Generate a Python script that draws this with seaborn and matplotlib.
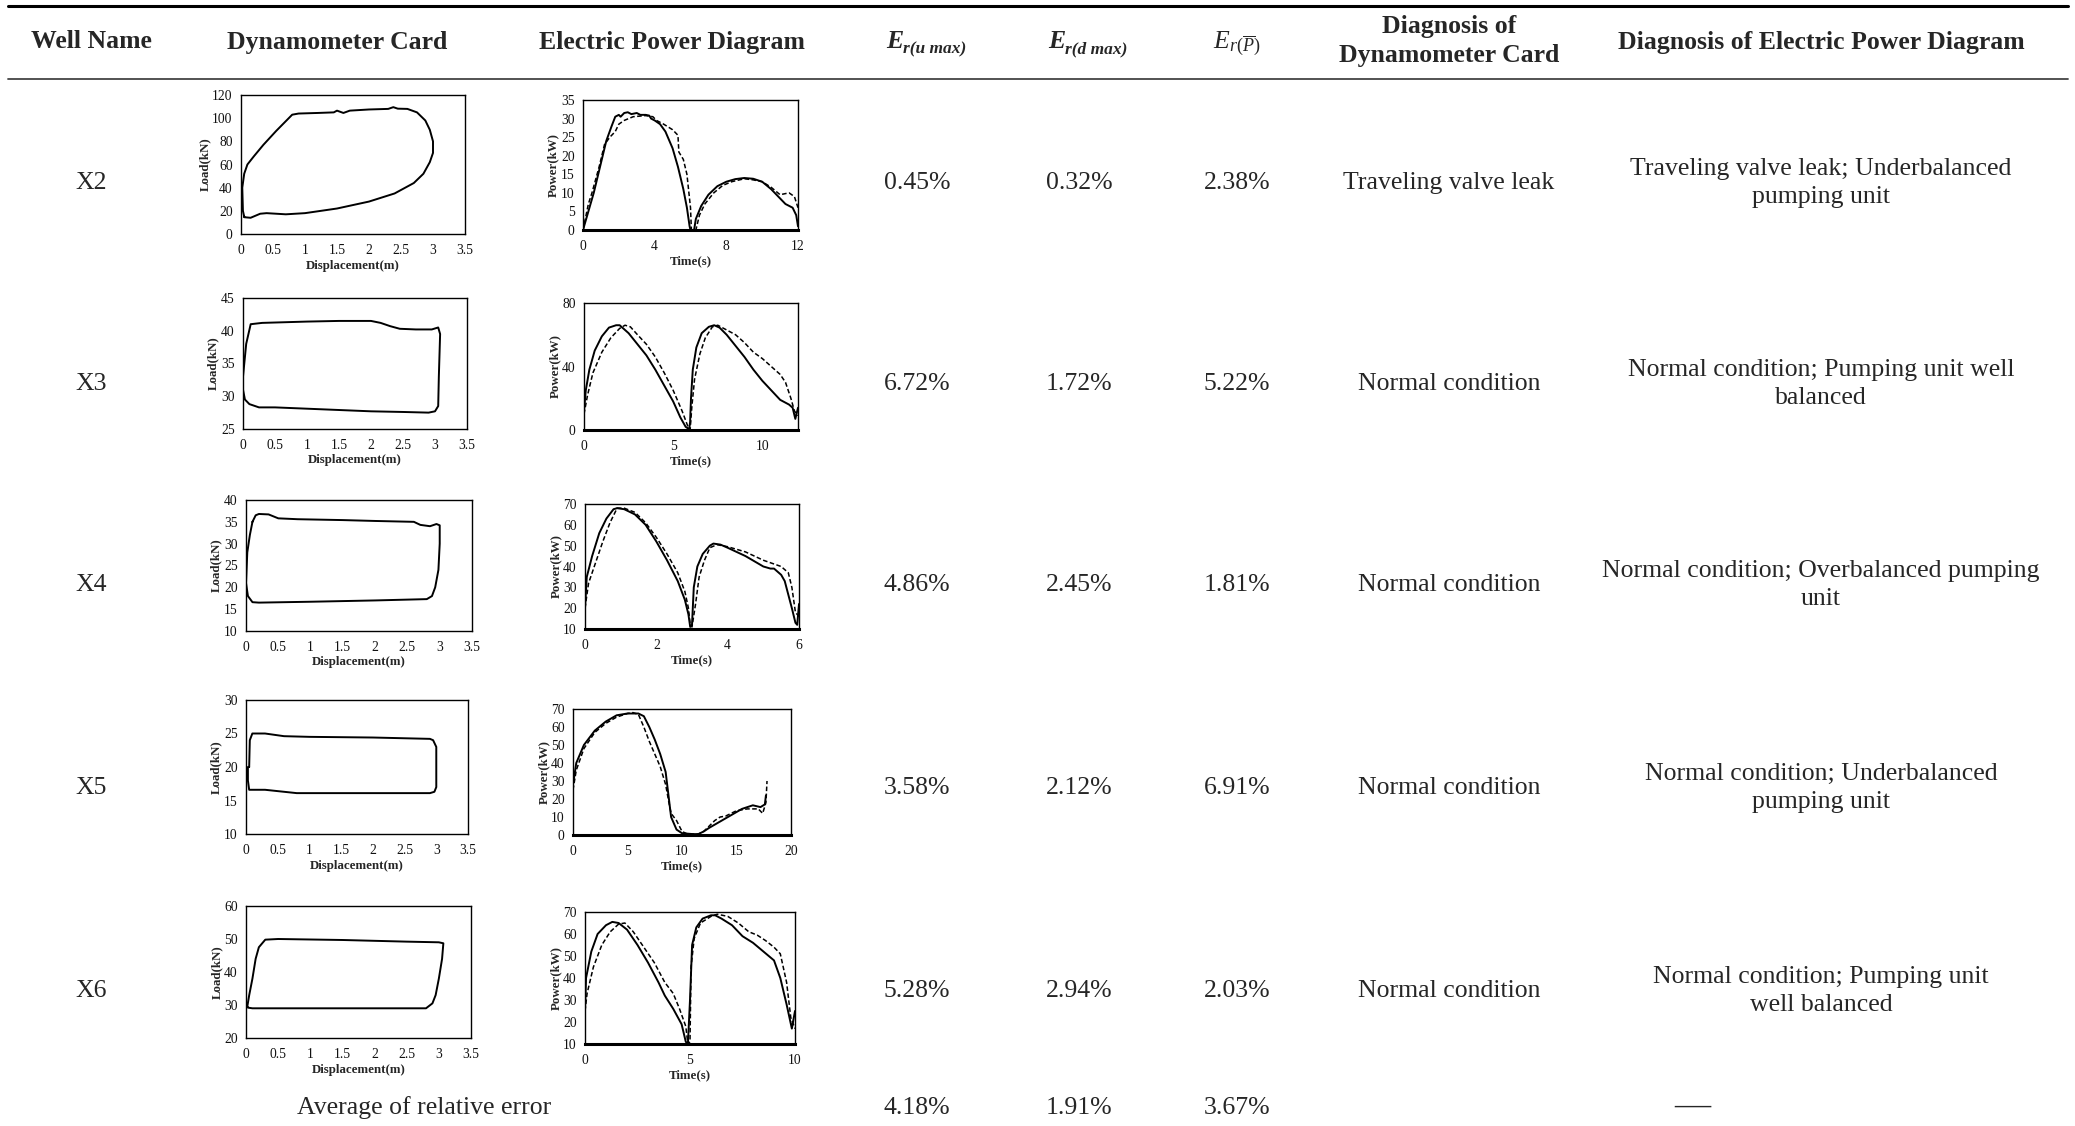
import numpy as np
import matplotlib
matplotlib.use("Agg")
import matplotlib.pyplot as plt
import seaborn as sns

# ---------------- table content ----------------
wells = ["X2", "X3", "X4", "X5", "X6"]
err_u_max = ["0.45%", "6.72%", "4.86%", "3.58%", "5.28%"]
err_d_max = ["0.32%", "1.72%", "2.45%", "2.12%", "2.94%"]
err_p_mean = ["2.38%", "5.22%", "1.81%", "6.91%", "2.03%"]
avg_errors = ["4.18%", "1.91%", "3.67%"]
diag_dyno = ["Traveling valve leak", "Normal condition", "Normal condition",
             "Normal condition", "Normal condition"]
diag_power = ["Traveling valve leak; Underbalanced\npumping unit",
              "Normal condition; Pumping unit well\nbalanced",
              "Normal condition; Overbalanced pumping\nunit",
              "Normal condition; Underbalanced\npumping unit",
              "Normal condition; Pumping unit\nwell balanced"]

# ---------------- dynamometer cards (displacement m, load kN) ----------------
x2_disp = [0.05, 0.03, 0.02, 0.05, 0.10, 0.20, 0.35, 0.55, 0.80, 0.90, 1.20, 1.45, 1.50, 1.60,
           1.70, 2.00, 2.30, 2.38, 2.45, 2.60, 2.75, 2.88, 2.95, 3.00, 3.00, 2.95, 2.85, 2.70,
           2.40, 2.00, 1.50, 1.00, 0.70, 0.40, 0.30, 0.15, 0.05, 0.05]
x2_load = [15, 20, 40, 52, 60, 67, 77, 89, 103, 104, 104.5, 105, 106.5, 104.5,
           106.5, 107.5, 108, 109.5, 108.2, 108, 105, 98, 90, 80, 70, 62, 52, 44,
           35, 28, 22, 18, 17, 18, 17.5, 14, 14.5, 15]

x3_disp = [0.00, 0.05, 0.12, 0.30, 1.00, 1.50, 2.00, 2.15, 2.30, 2.45, 2.70, 2.95, 3.05, 3.08,
           3.06, 3.05, 3.00, 2.90, 2.50, 2.00, 1.50, 1.00, 0.50, 0.25, 0.10, 0.03, 0.00, 0.00]
x3_load = [33, 38, 41, 41.2, 41.4, 41.5, 41.5, 41.2, 40.7, 40.3, 40.2, 40.2, 40.5, 39.5,
           33, 28.5, 27.7, 27.5, 27.6, 27.7, 27.9, 28.1, 28.3, 28.3, 28.8, 29.5, 31, 33]

x4_disp = [0.10, 0.15, 0.20, 0.35, 0.50, 0.80, 1.50, 2.00, 2.60, 2.70, 2.85, 2.95, 3.00, 3.00,
           2.98, 2.93, 2.88, 2.80, 2.00, 1.00, 0.20, 0.10, 0.03, 0.00, 0.02, 0.06, 0.10]
x4_load = [35, 36.5, 36.8, 36.7, 35.8, 35.6, 35.4, 35.2, 35.0, 34.3, 34.0, 34.5, 34.2, 30,
           24, 20, 18, 17.3, 17.0, 16.7, 16.5, 16.6, 18, 21, 28, 32, 35]

x5_disp = [0.05, 0.06, 0.10, 0.30, 0.60, 1.00, 2.00, 2.90, 2.95, 3.00, 3.00, 2.97, 2.90, 2.00,
           1.00, 0.80, 0.60, 0.30, 0.05, 0.03, 0.03, 0.05]
x5_load = [20, 24, 25, 25, 24.6, 24.5, 24.4, 24.2, 24.0, 23, 17, 16.3, 16.1, 16.1,
           16.1, 16.1, 16.3, 16.6, 16.6, 18, 20, 20]

x6_disp = [0.02, 0.05, 0.10, 0.15, 0.20, 0.30, 0.50, 1.50, 2.50, 3.00, 3.07, 3.05, 3.00, 2.95,
           2.90, 2.80, 2.00, 1.00, 0.10, 0.03, 0.00, 0.02]
x6_load = [29.5, 33, 38, 44, 47.5, 49.8, 50, 49.7, 49.2, 49, 48.7, 44, 38, 33,
           30.5, 29, 29, 29, 29, 29.2, 30, 29.5]

# ---------------- electric power diagrams (time s, power kW) ----------------
x2_t_meas = [0, 0.3, 0.6, 1.0, 1.3, 1.6, 1.8, 2.0, 2.1, 2.3, 2.5, 2.7, 3.0, 3.2, 3.5, 3.7, 3.8,
             4.0, 4.3, 4.6, 5.0, 5.3, 5.6, 5.8, 5.95, 6.0,
             6.2, 6.3, 6.6, 7.0, 7.5, 8.0, 8.5, 9.0, 9.5, 10.0, 10.5, 11.0, 11.3, 11.7, 11.9, 12.0]
x2_p_meas = [0, 5, 10, 18, 24, 28, 30.5, 31, 30.5, 31.5, 31.7, 31.2, 31.5, 31, 31, 30.8, 30,
             29.5, 28.5, 26.5, 22, 17, 11, 6, 1, 0,
             0, 3, 6.5, 9.5, 11.8, 13, 13.7, 14, 13.8, 13, 11, 8.5, 7, 6, 4, 1]
x2_t_calc = [0, 0.3, 0.5, 0.9, 1.2, 1.5, 1.8, 2.0, 2.3, 2.8, 3.5, 3.9, 4.1, 4.5, 5.0, 5.3, 5.35,
             5.6, 5.8, 6.0, 6.05,
             6.3, 6.5, 6.8, 7.3, 7.8, 8.3, 9.0, 9.5, 10.0, 10.5, 11.0, 11.5, 11.8, 12.0]
x2_p_calc = [0, 7, 10, 17, 23, 25, 26.5, 28.5, 29.5, 30.5, 30.8, 30.5, 29.5, 28.5, 27, 25.5, 21,
             19, 15, 6, 0,
             0, 4, 7, 10, 12, 13, 13.8, 13.5, 13, 11.5, 9.5, 10, 9, 6]

x3_t_meas = [0, 0.1, 0.3, 0.6, 1.0, 1.4, 1.8, 2.0, 2.5, 3.0, 3.5, 4.0, 4.5, 5.0, 5.4, 5.7, 5.9,
             5.95, 6.0, 6.1, 6.3, 6.6, 7.0, 7.3, 7.6, 8.0, 8.5, 9.0, 9.5, 10.0, 10.5, 11.0,
             11.5, 11.7, 11.85, 12.0]
x3_p_meas = [12, 25, 38, 50, 59, 64.5, 66, 66, 61, 54, 47, 38, 28, 18, 8, 2, 0.5,
             5, 20, 38, 52, 61, 65, 66, 64.5, 60, 53, 46, 38, 31, 25, 19,
             16, 14, 7, 14]
x3_t_calc = [0, 0.2, 0.5, 1.0, 1.5, 2.0, 2.3, 2.6, 3.0, 3.5, 4.0, 4.5, 5.0, 5.5, 5.8, 5.95,
             6.05, 6.2, 6.5, 6.8, 7.2, 7.5, 8.0, 8.5, 9.0, 9.5, 10.0, 10.5, 11.0, 11.3, 11.6,
             11.8, 12.0]
x3_p_calc = [10, 22, 36, 49, 58, 64, 66, 65, 60, 54, 46, 36, 25, 12, 3, 0,
             15, 32, 48, 58, 65, 66, 63, 60, 55, 49, 45, 40, 35, 30, 20,
             12, 9]

x4_t_meas = [0, 0.05, 0.2, 0.4, 0.6, 0.8, 0.9, 1.1, 1.4, 1.7, 2.0, 2.3, 2.6, 2.8, 2.9, 2.95,
             3.0, 3.05, 3.15, 3.3, 3.5, 3.6, 3.8, 4.0, 4.5, 5.0, 5.2, 5.3, 5.5, 5.6, 5.8, 5.9,
             5.95, 6.0]
x4_p_meas = [20, 35, 45, 56, 63, 67.5, 68, 67.5, 65, 60, 52, 43, 33, 24, 17, 11,
             12, 30, 40, 46, 50, 51, 50.5, 49, 45, 40, 39, 39, 36, 33, 20, 13,
             12, 22]
x4_t_calc = [0, 0.1, 0.3, 0.5, 0.7, 0.9, 1.1, 1.4, 1.7, 2.0, 2.3, 2.6, 2.8, 2.9, 2.95, 3.0,
             3.1, 3.2, 3.35, 3.5, 3.7, 4.0, 4.5, 5.0, 5.5, 5.7, 5.8, 5.9, 6.0]
x4_p_calc = [20, 32, 42, 52, 61, 68, 68, 66, 61, 54, 46, 37, 28, 20, 12, 11,
             22, 35, 43, 49, 50.5, 49.5, 47, 43, 40, 37, 30, 18, 16]

x5_t_meas = [0, 0.3, 1, 2, 3, 4, 5, 6, 6.5, 7, 7.5, 8, 8.5, 8.8, 9, 9.5, 10, 11, 11.5, 12,
             12.5, 13.5, 14.5, 15.5, 16.5, 17.2, 17.6, 17.7]
x5_p_meas = [28, 40, 50, 58, 63, 66.5, 67.5, 67.5, 66, 60, 53, 45, 35, 20, 10, 3, 1, 0.5, 0.5, 2,
             4, 7.5, 11, 14.5, 16.5, 15.5, 17, 22]
x5_t_calc = [0, 0.3, 1, 2, 3, 4, 5, 5.5, 6, 6.5, 7, 7.5, 8, 8.5, 8.8, 9, 9.5, 10, 10.5, 11.5,
             12, 12.5, 13, 13.5, 14, 15, 16, 17, 17.4, 17.7, 17.8]
x5_p_calc = [25, 36, 48, 57, 62, 65.5, 67.5, 68, 67, 60, 52, 45, 38, 28, 18, 12, 8, 2, 0.5, 0.5,
             2, 5, 8, 10, 10.5, 13.5, 14.5, 14.5, 12, 18, 30]

x6_t_meas = [0, 0.05, 0.3, 0.6, 1.0, 1.3, 1.6, 2.0, 2.5, 3.0, 3.5, 3.8, 4.2, 4.6, 4.8, 4.9,
             5.0, 5.1, 5.3, 5.6, 6.0, 6.2, 6.5, 7.0, 7.5, 8.0, 8.5, 9.0, 9.3, 9.6, 9.85, 10.0]
x6_p_meas = [25, 40, 52, 60, 64, 65.5, 65, 62, 55, 47, 38, 32, 26, 19, 11, 10,
             30, 55, 63, 67, 68.5, 68.5, 67, 64, 59, 56, 52, 48, 40, 28, 17, 25]
x6_t_calc = [0, 0.1, 0.4, 0.8, 1.2, 1.6, 1.9, 2.3, 2.8, 3.3, 3.8, 4.2, 4.5, 4.8, 4.9, 5.0,
             5.05, 5.2, 5.5, 6.0, 6.3, 6.8, 7.3, 7.8, 8.2, 8.6, 9.0, 9.3, 9.6, 9.8, 10.0]
x6_p_calc = [25, 33, 45, 55, 61, 64.5, 65, 61, 54, 47, 38, 33, 26, 18, 10, 11,
             45, 58, 65, 68, 69, 68, 65, 61, 59.5, 57, 54, 51, 38, 22, 17]

dyno_cards = [(x2_disp, x2_load), (x3_disp, x3_load), (x4_disp, x4_load),
              (x5_disp, x5_load), (x6_disp, x6_load)]
power_curves = [((x2_t_meas, x2_p_meas), (x2_t_calc, x2_p_calc)),
                ((x3_t_meas, x3_p_meas), (x3_t_calc, x3_p_calc)),
                ((x4_t_meas, x4_p_meas), (x4_t_calc, x4_p_calc)),
                ((x5_t_meas, x5_p_meas), (x5_t_calc, x5_p_calc)),
                ((x6_t_meas, x6_p_meas), (x6_t_calc, x6_p_calc))]

# axis ranges: (min, max, step)
dyno_load_range = [(0, 120, 20), (25, 45, 5), (10, 40, 5), (10, 30, 5), (20, 60, 10)]
power_time_range = [(0, 12, 4), (0, 12, 5), (0, 6, 2), (0, 20, 5), (0, 10, 5)]
power_kw_range = [(0, 35, 5), (0, 80, 40), (10, 70, 10), (0, 70, 10), (10, 70, 10)]

# ---------------- figure setup ----------------
W, H, DPI = 2075, 1126, 100
sns.set_style("white")
plt.rcParams["font.family"] = ["Liberation Serif", "DejaVu Serif"]
plt.rcParams["mathtext.fontset"] = "custom"
plt.rcParams["mathtext.rm"] = "Liberation Serif"
plt.rcParams["mathtext.it"] = "Liberation Serif:italic"
plt.rcParams["mathtext.bf"] = "Liberation Serif:bold"

fig = plt.figure(figsize=(W / DPI, H / DPI), dpi=DPI)
fig.patch.set_facecolor("white")


def px_axes(x0, y0, x1, y1):
    return fig.add_axes([x0 / W, 1 - y1 / H, (x1 - x0) / W, (y1 - y0) / H])


def ftext(x, y, s, **kw):
    return fig.text(x / W, 1 - y / H, s, **kw)


def fmt(v):
    return f"{v:g}"


def style_axes(ax, xr, yr, xlabel, ylabel, bottom_lw=1.0):
    ax.set_xlim(xr[0], xr[1])
    ax.set_ylim(yr[0], yr[1])
    xt = np.arange(xr[0], xr[1] + 1e-9, xr[2])
    yt = np.arange(yr[0], yr[1] + 1e-9, yr[2])
    ax.set_xticks(xt)
    ax.set_xticklabels([fmt(v) for v in xt])
    ax.set_yticks(yt)
    ax.set_yticklabels([fmt(v) for v in yt])
    ax.tick_params(length=0, labelsize=9.8, colors="#111111")
    ax.tick_params(axis="x", pad=7)
    ax.tick_params(axis="y", pad=6)
    ax.set_xlabel(xlabel, fontsize=9.3, fontweight="bold", labelpad=2)
    ax.set_ylabel(ylabel, fontsize=9.3, fontweight="bold", labelpad=1)
    for side, sp in ax.spines.items():
        sp.set_visible(True)
        sp.set_color("black")
        sp.set_linewidth(1.0)
    ax.spines["bottom"].set_linewidth(bottom_lw)
    ax.grid(False)
    ax.set_facecolor("white")


# axes boxes in pixels (x0, y0, x1, y1)
dyno_boxes = [(241, 95, 465, 234), (243, 298, 467, 429), (246, 500, 472, 631),
              (246, 700, 468, 834), (246, 906, 471, 1038)]
power_boxes = [(583, 100, 798, 230), (584, 303, 798, 430), (585, 504, 799, 629),
               (573, 709, 791, 835), (585, 912, 795, 1044)]

for i in range(5):
    # dynamometer card
    ax = px_axes(*dyno_boxes[i])
    d, l = dyno_cards[i]
    sns.lineplot(x=d, y=l, sort=False, estimator=None, color="black", lw=1.4, ax=ax)
    style_axes(ax, (0, 3.5, 0.5), dyno_load_range[i], "Displacement(m)", "Load(kN)")

    # electric power diagram: measured (solid) and computed (dashed)
    ax = px_axes(*power_boxes[i])
    (tm, pm), (tc, pc) = power_curves[i]
    sns.lineplot(x=tm, y=pm, sort=False, estimator=None, color="black", lw=1.4, ax=ax)
    sns.lineplot(x=tc, y=pc, sort=False, estimator=None, color="black", lw=1.1,
                 linestyle=(0, (3, 1.6)), ax=ax)
    style_axes(ax, power_time_range[i], power_kw_range[i], "Time(s)", "Power(kW)", bottom_lw=2.2)

# ---------------- table rules ----------------
rule_ax = fig.add_axes([0, 0, 1, 1], zorder=-1)
rule_ax.set_xlim(0, W)
rule_ax.set_ylim(H, 0)
rule_ax.axis("off")
rule_ax.plot([8, 2068], [6, 6], color="black", lw=2.2)
rule_ax.plot([8, 2068], [79, 79], color="#444444", lw=1.3)

# ---------------- header ----------------
HS = 18.5
ftext(91, 42, "Well Name", ha="center", va="center", fontsize=HS, fontweight="bold")
ftext(337, 42, "Dynamometer Card", ha="center", va="center", fontsize=HS, fontweight="bold")
ftext(672, 42, "Electric Power Diagram", ha="center", va="center", fontsize=HS, fontweight="bold")
ftext(1449, 41, "Diagnosis of\nDynamometer Card", ha="center", va="center", fontsize=HS,
      fontweight="bold", linespacing=1.3)
ftext(1821, 42, "Diagnosis of Electric Power Diagram", ha="center", va="center",
      fontsize=HS, fontweight="bold")

# error headers: E with subscript
for cx, sub in [(917, "r(u max)"), (1079, "r(d max)")]:
    ftext(cx - 14, 42, "E", ha="right", va="center", fontsize=HS, fontweight="bold",
          style="italic")
    ftext(cx - 14, 49, sub, ha="left", va="center", fontsize=12.5, fontweight="bold",
          style="italic")
ftext(1237, 44, r"$E_{r(\overline{P})}$", ha="center", va="center", fontsize=HS)

# ---------------- body ----------------
BS = 18.5
row_y = [183, 384, 585, 788, 991]
for i, y in enumerate(row_y):
    ftext(91, y, wells[i], ha="center", va="center", fontsize=BS)
    ftext(917, y, err_u_max[i], ha="center", va="center", fontsize=BS)
    ftext(1079, y, err_d_max[i], ha="center", va="center", fontsize=BS)
    ftext(1237, y, err_p_mean[i], ha="center", va="center", fontsize=BS)
    ftext(1449, y, diag_dyno[i], ha="center", va="center", fontsize=BS)
    ftext(1821, y, diag_power[i], ha="center", va="center", fontsize=BS, linespacing=1.38)

ftext(424, 1108, "Average of relative error", ha="center", va="center", fontsize=BS)
for cx, v in zip([917, 1079, 1237], avg_errors):
    ftext(cx, 1108, v, ha="center", va="center", fontsize=BS)
ftext(1692, 1106, "\u2014", ha="center", va="center", fontsize=26)

fig.savefig("out.png", dpi=DPI, facecolor="white")
